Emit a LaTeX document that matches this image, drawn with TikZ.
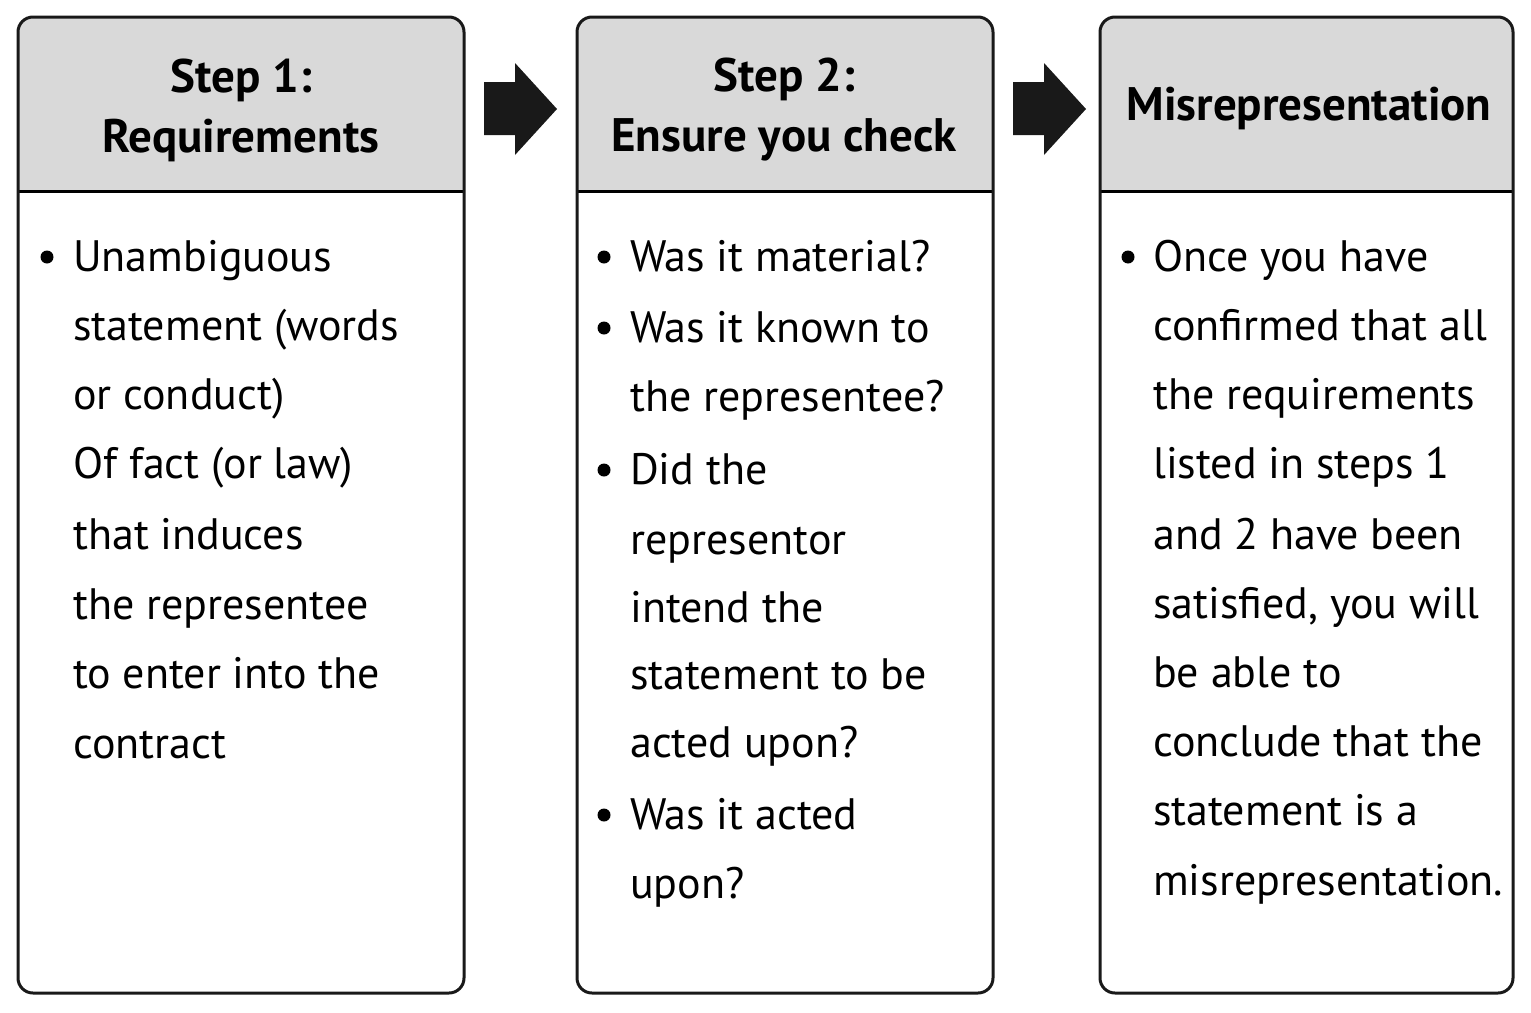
\documentclass[tikz,border=0pt]{standalone}
\usepackage{fontspec}
\setmainfont{PT Sans}
\begin{document}
\begin{tikzpicture}[x=1pt,y=-1pt,
 box/.style={draw=black!90,line width=3pt,rounded corners=15pt},
 hdr/.style={fill=black!15},
 ht/.style={font=\fontsize{47}{60}\selectfont\bfseries,align=center},
 bt/.style={font=\fontsize{44}{52}\selectfont,anchor=mid west,inner sep=0pt,yshift=-12pt},
 bul/.style={circle,fill=black,inner sep=0pt,minimum size=13pt},
 arr/.style={fill=black!90}]
\useasboundingbox (0,0) rectangle (1531,1012);
\foreach \n/\a/\b in {b1/18/464,b2/577/993,b3/1100/1513}{
 \begin{scope}
 \clip[rounded corners=15pt] (\a,17) rectangle (\b,993);
 \fill[hdr] (\a,17) rectangle (\b,191);
 \end{scope}
 \draw[line width=3pt] (\a,191) -- (\b,191);
 \draw[box] (\a,17) rectangle (\b,993);
}
\foreach \s in {484,1013}{
 \fill[arr] (\s,82) -- (\s+31,82) -- (\s+31,63) -- (\s+73,109) -- (\s+31,155) -- (\s+31,135) -- (\s,135) -- cycle;
}
\node[ht] (h1) at (241,110) {Step 1:\\Requirements};
\node[ht] (h2) at (784,110) {Step 2:\\Ensure you check};
\node[ht] (h3) at (1309,108) {Misrepresentation};
\node[bul] (u1) at (47,257) {};
\foreach \y/\t [count=\i] in {257/Unambiguous,326/statement (words,395/or conduct),464/Of fact (or law),535/that induces,605/the representee,674/to enter into the,744/contract}
 \node[bt] (a\i) at (73,\y) {\t};
\foreach \y [count=\i] in {257,328,470,815} \node[bul] (v\i) at (604,\y) {};
\foreach \y/\t [count=\i] in {257/Was it material?,328/Was it known to,397/the representee?,470/Did the,540/representor,608/intend the,675/statement to be,743/acted upon?,815/Was it acted,884/upon?}
 \node[bt] (c\i) at (630,\y) {\t};
\node[bul] (w1) at (1128,257) {};
\foreach \y/\t [count=\i] in {257/Once you have,326/confirmed that all,395/the requirements,464/listed in steps 1,535/and 2 have been,604/{satisfied, you will},673/be able to,742/conclude that the,811/statement is a,881/misrepresentation.}
 \node[bt] (d\i) at (1153,\y) {\t};
\end{tikzpicture}
\end{document}
